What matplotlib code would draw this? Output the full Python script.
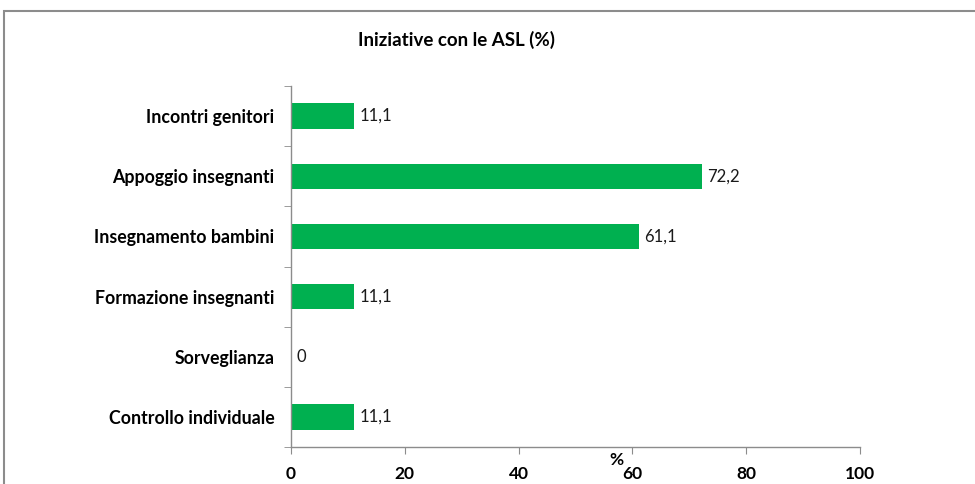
import matplotlib
matplotlib.use("Agg")
import matplotlib.pyplot as plt
from matplotlib.patches import Rectangle
import numpy as np

categories = ["Incontri genitori", "Appoggio insegnanti", "Insegnamento bambini",
              "Formazione insegnanti", "Sorveglianza", "Controllo individuale"]
values = [11.1, 72.2, 61.1, 11.1, 0, 11.1]
value_labels = ["11,1", "72,2", "61,1", "11,1", "0", "11,1"]
xticks = [0, 20, 40, 60, 80, 100]

plt.rcParams['font.family'] = ['Lato', 'DejaVu Sans']

fig = plt.figure(figsize=(9.75, 4.84), dpi=100)
fig.patch.set_facecolor('white')

# outer chart frame (top and left visible)
fig.patches.append(Rectangle((4/975, -0.1), 1.2, 1 - 11/484 + 0.1,
                             transform=fig.transFigure, fill=False,
                             edgecolor='#8c8c8c', linewidth=1.5, clip_on=False))

ax = fig.add_axes([291/975, 1 - 447/484, (860 - 291)/975, (447 - 86)/484])

n = len(categories)
pos = np.arange(n)
ax.barh(pos, values, height=0.42, color='#00B050', zorder=2)
ax.set_ylim(n - 0.5, -0.5)
ax.set_xlim(0, 100)

for p, v, lab in zip(pos, values, value_labels):
    ax.text(v + 0.9, p, lab, va='center', ha='left', fontsize=12, color='#1a1a1a')

ax.set_xticks(xticks)
ax.set_xticklabels([str(t) for t in xticks], fontweight='bold', fontsize=12.5)
ax.set_yticks(pos)
ax.set_yticklabels(categories, fontweight='bold', fontsize=12.8)
ax.tick_params(axis='y', length=0, pad=12)
ax.set_yticks(np.arange(n + 1) - 0.5, minor=True)
ax.tick_params(axis='y', which='minor', length=5, color='#8c8c8c', direction='out')
ax.tick_params(axis='x', length=5, color='#8c8c8c', direction='out', pad=9)

for s in ['top', 'right']:
    ax.spines[s].set_visible(False)
for s in ['left', 'bottom']:
    ax.spines[s].set_color('#8c8c8c')
    ax.spines[s].set_linewidth(1.0)

ax.set_xlabel('%', fontweight='bold', fontsize=12.5)
ax.xaxis.set_label_coords((616 - 291) / (860 - 291), -0.015)

fig.text(457/975, 1 - 40/484, 'Iniziative con le ASL (%)', ha='center', va='center',
         fontweight='bold', fontsize=13.5)

fig.savefig('out.png', dpi=100, facecolor='white')
